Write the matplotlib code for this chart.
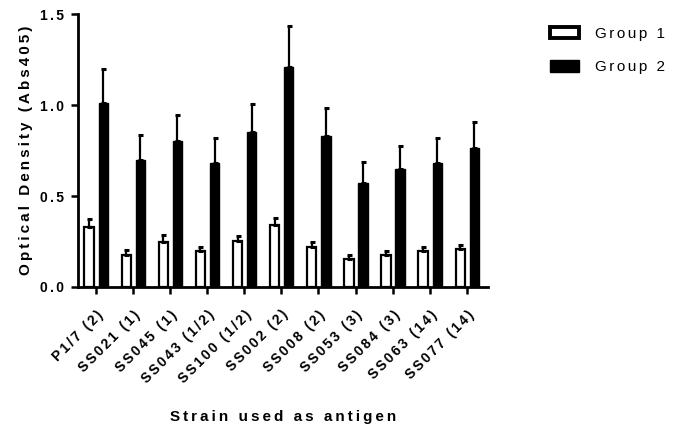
import matplotlib
matplotlib.use("Agg")
import matplotlib.pyplot as plt
import numpy as np

plt.rcParams['font.family'] = ['Liberation Sans', 'DejaVu Sans']

categories = ["P1/7 (2)", "SS021 (1)", "SS045 (1)", "SS043 (1/2)", "SS100 (1/2)",
              "SS002 (2)", "SS008 (2)", "SS053 (3)", "SS084 (3)", "SS063 (14)", "SS077 (14)"]
group1 = [0.33, 0.178, 0.245, 0.197, 0.252, 0.34, 0.222, 0.156, 0.175, 0.198, 0.208]
group1_err = [0.041, 0.024, 0.040, 0.023, 0.029, 0.040, 0.026, 0.019, 0.022, 0.022, 0.025]
group2 = [1.01, 0.698, 0.804, 0.683, 0.85, 1.212, 0.83, 0.57, 0.647, 0.68, 0.763]
group2_err = [0.19, 0.138, 0.142, 0.135, 0.157, 0.221, 0.153, 0.119, 0.128, 0.138, 0.146]
yticks = [0.0, 0.5, 1.0, 1.5]
series_names = ["Group 1", "Group 2"]

SIX = '\u2006'
THIN = '\u2009'
def spaced(s, sep=SIX):
    return sep.join(list(s))

fig = plt.figure(figsize=(6.75, 4.34), dpi=100)
ax = fig.add_axes([0.115, 0.339, 0.608, 0.628])

x = np.arange(len(categories))
w = 0.25
ax.bar(x - 0.18, group1, width=w, color='white', edgecolor='black', linewidth=1.6,
       yerr=[np.zeros(len(group1)), group1_err], capsize=1.8,
       error_kw=dict(elinewidth=1.6, capthick=2.2, ecolor='black'), label=spaced(series_names[0]))
ax.bar(x + 0.20, group2, width=w, color='black', edgecolor='black', linewidth=1.0,
       yerr=[np.zeros(len(group2)), group2_err], capsize=1.8,
       error_kw=dict(elinewidth=1.6, capthick=2.2, ecolor='black'), label=spaced(series_names[1]))

ax.set_xlim(-0.49, 10.57)
ax.set_ylim(0, 1.5)
ax.set_yticks(yticks)
ax.set_yticklabels([spaced(f"{v:.1f}") for v in yticks], fontsize=10, fontweight='bold')
ax.set_xticks(x)
ax.set_xticklabels([spaced(c) for c in categories], rotation=45, ha='right',
                   rotation_mode='anchor', fontsize=10, fontweight='bold')

for s in ['top', 'right']:
    ax.spines[s].set_visible(False)
for s in ['left', 'bottom']:
    ax.spines[s].set_linewidth(2.0)
ax.tick_params(axis='both', direction='out', length=5, width=1.8, color='black')
ax.tick_params(axis='x', pad=10)
ax.tick_params(axis='y', pad=5)

ax.set_ylabel(spaced("Optical Density (Abs405)", THIN), fontsize=11, fontweight='bold', labelpad=5)
ax.set_xlabel(spaced("Strain used as antigen", THIN), fontsize=11, fontweight='bold', labelpad=17)

leg = fig.legend(loc='upper left', bbox_to_anchor=(550/675, 1 - 26.5/434), frameon=False,
                 borderpad=0, borderaxespad=0, handlelength=1.9, handleheight=0.78,
                 handletextpad=1.05, labelspacing=1.29, prop=dict(size=11))
leg.legend_handles[0].set_linewidth(2.8)

fig.savefig("out.png", dpi=100)
